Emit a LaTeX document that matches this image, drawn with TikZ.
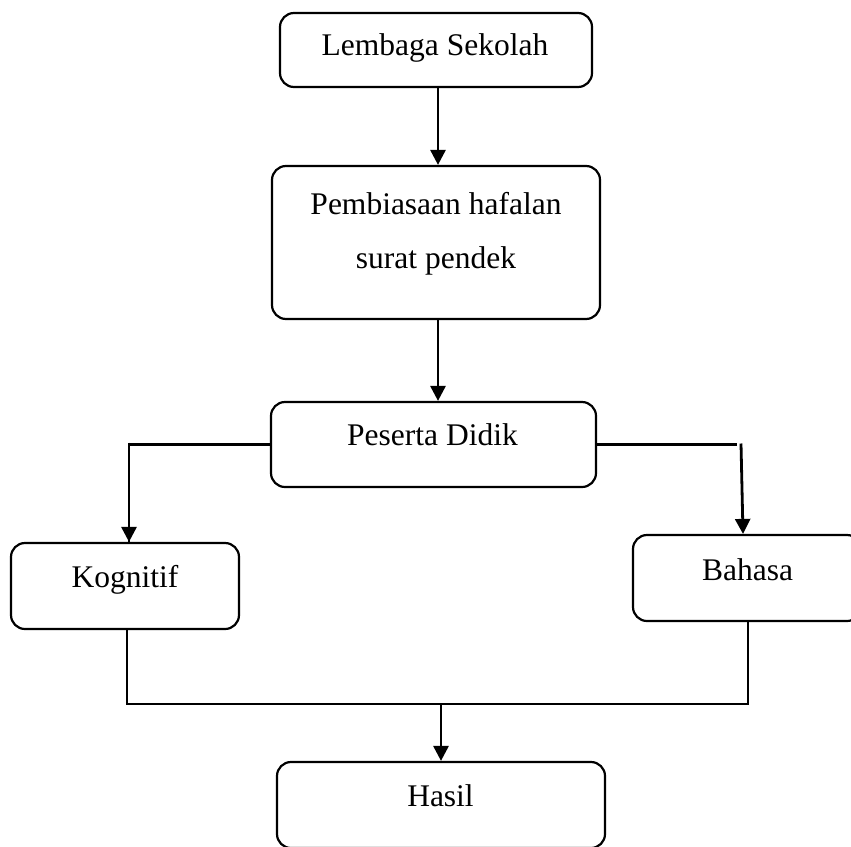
\documentclass[tikz,border=0pt]{standalone}
\usepackage{fontspec}
\setmainfont{Liberation Serif}
\usetikzlibrary{arrows.meta}
\begin{document}
\begin{tikzpicture}[x=1pt,y=-1pt,
  box/.style={draw, line width=2.2pt, rounded corners=14pt, inner sep=0pt},
  lbl/.style={anchor=base, inner sep=0pt, font=\fontsize{31.5}{54}\selectfont, align=center},
  arr/.style={line width=2.8pt, -{Triangle[length=15pt,width=15pt]}},
  conn/.style={line width=2.2pt}]
\clip (0,0) rectangle (851,846);
\fill[white] (0,0) rectangle (851,846);
% boxes
\node[box, minimum width=312pt, minimum height=74pt] (lem) at (436,50) {};
\node[box, minimum width=328pt, minimum height=153pt] (pem) at (436,242.5) {};
\node[box, minimum width=325pt, minimum height=85pt] (ps) at (433.5,444.5) {};
\node[box, minimum width=228pt, minimum height=86pt] (kog) at (125,586) {};
\node[box, minimum width=228pt, minimum height=86pt] (bah) at (747,578) {};
\node[box, minimum width=328pt, minimum height=86pt] (has) at (441,805) {};
% labels
\node[lbl] (lemt) at (435,55) {Lembaga Sekolah};
\node[lbl] (pemt) at (436,268) {Pembiasaan hafalan\\surat pendek};
\node[lbl] (pst) at (432.5,445) {Peserta Didik};
\node[lbl] (kogt) at (125,587) {Kognitif};
\node[lbl] (baht) at (747.5,580) {Bahasa};
\node[lbl] (hast) at (440.5,806) {Hasil};
% connectors
\coordinate (j) at (441,704);
\draw[arr] ([xshift=2pt]lem.south) -- ([xshift=2pt]pem.north);
\draw[arr] ([xshift=2pt]pem.south) -- ([xshift=2pt]pem.south |- ps.north);
\draw[conn] (ps.west) -| ([xshift=4pt]kog.north);
\draw[arr] ([xshift=4pt,yshift=2pt]ps.west -| kog.north) -- ([xshift=4pt]kog.north);
\draw[conn] (ps.east) -- ([xshift=-10pt]ps.east -| bah.north);
\draw[arr] ([xshift=-6pt,yshift=1pt]ps.east -| bah.north) -- ([xshift=-4pt]bah.north);
\draw[conn] ([xshift=2pt]kog.south) |- (j) -| ([xshift=1pt]bah.south);
\draw[arr] (j) -- (has.north);
\end{tikzpicture}
\end{document}
